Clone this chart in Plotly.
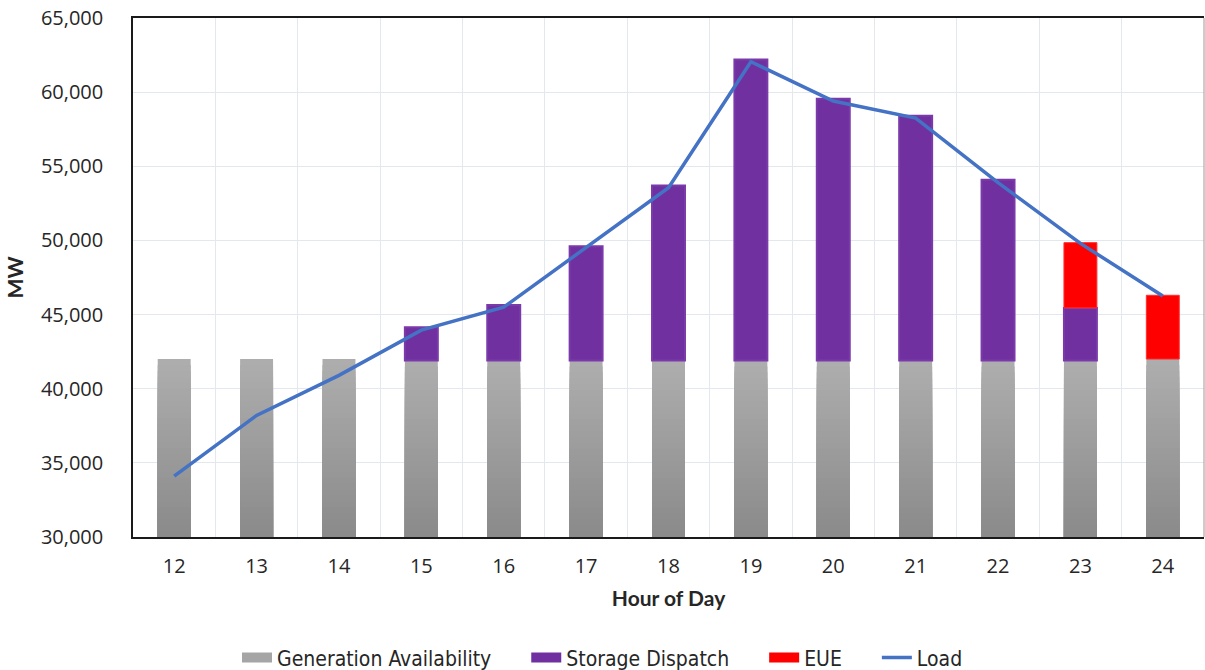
import plotly.graph_objects as go

# Hourly capacity balance, hours 12-24
hours = ["12", "13", "14", "15", "16", "17", "18", "19", "20", "21", "22", "23", "24"]
generation = [42000, 42000, 42000, 41900, 41900, 41900, 41900, 41900, 41900, 41900, 41900, 41900, 42000]
storage = [0, 0, 0, 2250, 3750, 7700, 11800, 20300, 17650, 16500, 12200, 3550, 0]
eue = [0, 0, 0, 0, 0, 0, 0, 0, 0, 0, 0, 4400, 4300]
load = [34100, 38200, 40900, 43950, 45500, 49500, 53550, 62050, 59400, 58250, 53900, 49800, 46250]

y_min, y_max = 30000, 65000
bar_w = 0.40
text_col = "#262626"
tick_font = dict(family="Open Sans, Segoe UI, sans-serif", size=20, color=text_col)
title_font = dict(family="Lato, Calibri, sans-serif", size=21, color=text_col)
legend_font = dict(family="Liberation Sans Narrow, DejaVu Sans Condensed, sans-serif", size=21, color=text_col)

GEN_COL, STO_COL, EUE_COL, LOAD_COL = "#A5A5A5", "#7030A0", "#FF0000", "#4472C4"
GAP = "\u00a0" * 5  # spacing between legend entries

fig = go.Figure()

# Generation bars: overlapping layers from the axis floor, lightest/tallest first,
# so the visible part shades from dark at the bottom to light at the top
n_slices = 30
dark = (0x8A, 0x8A, 0x8A)
light = (0xAE, 0xAE, 0xAE)
for i in range(n_slices, 0, -1):
    t = (i - 0.5) / n_slices
    c = tuple(round(d + (l - d) * t) for d, l in zip(dark, light))
    top = [y_min + (g - y_min) * i / n_slices for g in generation]
    fig.add_trace(go.Bar(
        x=hours, y=[v - y_min for v in top], base=y_min, width=bar_w,
        marker=dict(color="rgb(%d,%d,%d)" % c, line=dict(width=0)),
        showlegend=False, hoverinfo="skip",
    ))

fig.add_trace(go.Bar(
    x=hours, y=[s if s else None for s in storage], base=generation, width=bar_w,
    name="Storage Dispatch", showlegend=False,
    marker=dict(color=STO_COL, line=dict(color="#7A3AAA", width=2)),
))

fig.add_trace(go.Bar(
    x=hours, y=[e if e else None for e in eue],
    base=[g + s for g, s in zip(generation, storage)], width=bar_w,
    name="EUE", showlegend=False,
    marker=dict(color=EUE_COL, line=dict(color="#FF3030", width=1)),
))

fig.add_trace(go.Scatter(
    x=hours, y=load, mode="lines", name="Load", showlegend=False,
    line=dict(color=LOAD_COL, width=3.5),
))

# Legend keys: wide rectangles for the bar series, a line for the load
for name, col, w in [("Generation Availability" + GAP, GEN_COL, 14),
                     ("Storage Dispatch" + GAP, STO_COL, 14),
                     ("EUE" + GAP, EUE_COL, 14),
                     ("Load", LOAD_COL, 3.5)]:
    fig.add_trace(go.Scatter(
        x=[None], y=[None], mode="lines", name=name,
        line=dict(color=col, width=w),
    ))

fig.update_layout(
    width=1205, height=670,
    barmode="overlay",
    plot_bgcolor="white", paper_bgcolor="white",
    margin=dict(l=133, r=1, t=18, b=133),
    font=tick_font,
    legend=dict(
        orientation="h", xref="container", x=0.5, xanchor="center",
        yref="container", y=0.018, yanchor="middle",
        font=legend_font, traceorder="normal",
        itemwidth=30,
    ),
    xaxis=dict(
        type="category", tickson="boundaries", ticks="",
        showgrid=True, gridcolor="#E3E7EE", gridwidth=1,
        showline=True, linecolor="#1A1A1A", linewidth=1.5, mirror=True,
        tickfont=tick_font, ticklabelstandoff=10,
        title=dict(text="<b>Hour of Day</b>", standoff=14, font=title_font),
    ),
    yaxis=dict(
        range=[y_min, y_max], dtick=5000, tickformat=",",
        showgrid=True, gridcolor="#E3E7EE", gridwidth=1,
        showline=True, linecolor="#1A1A1A", linewidth=1.5,
        ticks="", tickfont=tick_font, ticklabelstandoff=24,
        title=dict(text="<b>MW</b>", standoff=12, font=title_font),
        zeroline=False,
    ),
    shapes=[dict(type="line", xref="paper", yref="paper", x0=1, x1=1, y0=0, y1=1,
                 line=dict(color="#9A9A9A", width=1))],
)

fig.write_html("out.html")
